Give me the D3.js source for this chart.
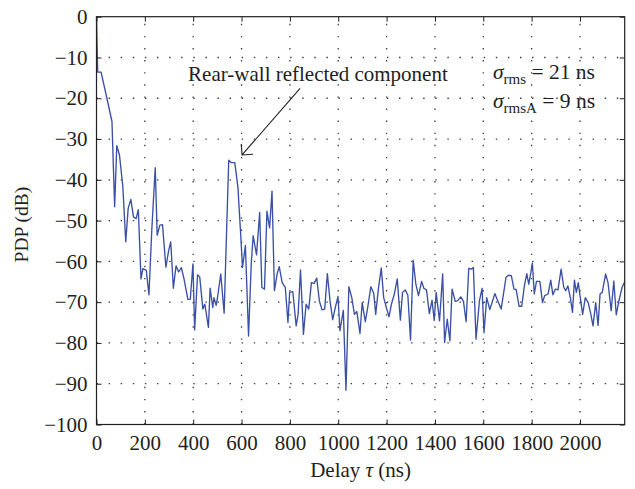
<!DOCTYPE html>
<html>
<head>
<meta charset="utf-8">
<script src="https://cdn.jsdelivr.net/npm/d3@7"></script>
<style>
  body { margin: 0; background: #fff; }
  svg { display: block; }
  text { font-family: "Liberation Serif", "Times New Roman", serif; fill: #231f20; }
</style>
</head>
<body>
<svg id="chart" width="635" height="489"></svg>
<script>
// Power delay profile: delay (ns) and received power (dB)
const delayNs = [
  0, 5, 19, 43, 64, 75, 84, 95, 109, 121, 131, 142, 153, 164, 173, 184, 192, 206, 217, 229,
  243, 251, 262, 273, 287, 298, 307, 318, 329, 340, 351, 362, 378, 388, 399, 406, 418, 427, 440, 448,
  463, 470, 481, 486, 495, 500, 514, 528, 547, 558, 572, 585, 596, 604, 616, 629, 640, 648, 662, 675,
  684, 695, 705, 716, 726, 736, 747, 756, 768, 781, 792, 799, 812, 826, 834, 844, 856, 867, 878, 889,
  900, 911, 922, 933, 944, 955, 966, 977, 988, 999, 1007, 1021, 1032, 1044, 1056, 1067, 1077, 1090, 1099, 1112,
  1122, 1135, 1147, 1155, 1166, 1178, 1188, 1199, 1210, 1220, 1232, 1244, 1257, 1266, 1277, 1288, 1299, 1310, 1321, 1332,
  1345, 1354, 1365, 1377, 1388, 1397, 1405, 1419, 1432, 1440, 1451, 1462, 1471, 1484, 1493, 1507, 1518, 1529, 1540, 1551,
  1559, 1570, 1584, 1595, 1603, 1614, 1627, 1648, 1657, 1674, 1694, 1705, 1716, 1727, 1736, 1748, 1759, 1770, 1780, 1788,
  1797, 1803, 1811, 1820, 1834, 1845, 1854, 1868, 1879, 1888, 1898, 1909, 1922, 1933, 1941, 1950, 1960, 1969, 1977, 1985,
  1993, 2004, 2011, 2022, 2034, 2045, 2054, 2065, 2075, 2083, 2092, 2106, 2116, 2129, 2140, 2150, 2161, 2174, 2185
];
const pdpDb = [
  0, -13.6, -13.6, -20, -25.7, -46.6, -31.6, -33.9, -41.7, -55.2, -47, -44.8, -49.1, -49.5, -47.3, -64.3, -61.8, -62.2, -68.2, -52,
  -37, -53.6, -51.1, -51, -61.4, -57.5, -55.2, -66.6, -61.1, -62.6, -61.5, -64.3, -69.3, -69.3, -60.6, -76.8, -63.3, -63.8, -71.7, -70.5,
  -76.2, -66.6, -71.3, -68.9, -70.8, -69.1, -63.1, -72.7, -35.2, -35.8, -35.8, -41.8, -52.9, -61.5, -56.1, -78.3, -60.7, -53.7, -58.4, -48,
  -66.4, -66.8, -47.7, -51.8, -42.8, -67.2, -63.1, -61.3, -65.2, -66.4, -75, -67.6, -67.4, -75.8, -73, -62.1, -77.9, -70.5, -71.7, -65.2,
  -65.4, -64.1, -69.7, -71.9, -71.7, -63, -69.7, -74.3, -71.3, -68.6, -77, -72, -91.6, -66.2, -68.9, -73, -72.3, -77.7, -70.1, -74.8,
  -71.3, -66.2, -67.9, -73, -66.8, -61.6, -68.9, -71.3, -73.6, -70.5, -68, -64.3, -74.4, -67.6, -67, -68.3, -79.3, -59.7, -65.6, -68.4,
  -64.9, -66.6, -67, -72.8, -69.5, -74.5, -67.6, -74.6, -63.1, -79.9, -74.2, -79.5, -66.8, -69.8, -69.7, -68.7, -69.8, -74.8, -61.7, -61.9,
  -61.5, -79.1, -69.7, -66.6, -77.5, -68.9, -71.8, -67.9, -69.3, -71.7, -63.9, -63.4, -63.5, -66.8, -66.9, -71, -71, -66, -63, -65.6,
  -62.7, -60.4, -68, -64.9, -64.9, -70.1, -68.4, -68, -64.6, -68.2, -66.8, -67, -61.9, -66.4, -67.2, -66, -68.9, -72.5, -64.6, -67.6,
  -65.2, -70.1, -73, -68.9, -70.1, -73, -75.8, -70.1, -75.7, -68, -67.6, -63.1, -65.2, -72.1, -64.8, -73.1, -69.7, -66.4, -65
];

const xTicks = d3.range(0, 2001, 200);
const yTicks = d3.range(-100, 1, 10);

const svg = d3.select("#chart");
const plot = { left: 96.5, right: 624.7, top: 16.7, bottom: 424.5 };

const x = d3.scaleLinear().domain([0, 2185]).range([plot.left, plot.right]);
const y = d3.scaleLinear().domain([-100, 0]).range([plot.bottom, plot.top]);

const minus = v => (v < 0 ? "\u2212" + Math.abs(v) : String(v));

// dotted grid
const grid = svg.append("g").attr("stroke", "#3a3a3a").attr("stroke-width", 1.3)
  .attr("stroke-dasharray", "1.4,10.7").attr("fill", "none");
grid.selectAll("line.gx").data(xTicks.filter(d => d > 0)).join("line")
  .attr("x1", d => x(d)).attr("x2", d => x(d))
  .attr("y1", plot.bottom).attr("y2", plot.top);
grid.selectAll("line.gy").data(yTicks.filter(d => d > -100 && d < 0)).join("line")
  .attr("x1", plot.left).attr("x2", plot.right)
  .attr("y1", d => y(d)).attr("y2", d => y(d));

// profile trace
const line = d3.line().x((d, i) => x(delayNs[i])).y(d => y(d));
svg.append("path")
  .datum(pdpDb)
  .attr("d", line)
  .attr("fill", "none")
  .attr("stroke", "#3b50a4")
  .attr("stroke-width", 1.35)
  .attr("stroke-linejoin", "round");

// axes with inward ticks on all four sides
const tickLen = 5;
const axB = d3.axisBottom(x).tickValues(xTicks).tickSizeInner(-tickLen).tickSizeOuter(0).tickPadding(11).tickFormat(d3.format("d"));
const axT = d3.axisTop(x).tickValues(xTicks).tickSizeInner(-tickLen).tickSizeOuter(0).tickFormat("");
const axL = d3.axisLeft(y).tickValues(yTicks).tickSizeInner(-tickLen).tickSizeOuter(0).tickPadding(9).tickFormat(minus);
const axR = d3.axisRight(y).tickValues(yTicks).tickSizeInner(-tickLen).tickSizeOuter(0).tickFormat("");

function style(g) {
  g.select(".domain").remove();
  g.selectAll(".tick line").attr("stroke", "#231f20").attr("stroke-width", 1);
  g.selectAll(".tick text").attr("font-size", 21).attr("font-family", "Liberation Serif, serif").attr("fill", "#231f20");
}
svg.append("g").attr("transform", `translate(0,${plot.bottom})`).call(axB).call(style);
svg.append("g").attr("transform", `translate(0,${plot.top})`).call(axT).call(style);
svg.append("g").attr("transform", `translate(${plot.left},0)`).call(axL).call(style);
svg.append("g").attr("transform", `translate(${plot.right},0)`).call(axR).call(style);

// frame
svg.append("rect")
  .attr("x", plot.left).attr("y", plot.top)
  .attr("width", plot.right - plot.left).attr("height", plot.bottom - plot.top)
  .attr("fill", "none").attr("stroke", "#231f20").attr("stroke-width", 1.2);

// axis titles
svg.append("text")
  .attr("transform", `translate(28,${(plot.top + plot.bottom) / 2 + 4}) rotate(-90)`)
  .attr("text-anchor", "middle").attr("font-size", 19.5)
  .text("PDP (dB)");

const xt = svg.append("text")
  .attr("x", (plot.left + plot.right) / 2).attr("y", 477)
  .attr("text-anchor", "middle").attr("font-size", 21);
xt.append("tspan").text("Delay ");
xt.append("tspan").attr("font-style", "italic").text("\u03c4");
xt.append("tspan").text(" (ns)");

// annotation for the rear-wall reflection
const note = { tx: 379, ty: -15.8, fromX: 842, fromY: -17.6, toX: 602, toY: -33.9 };
svg.append("text")
  .attr("x", x(note.tx)).attr("y", y(note.ty))
  .attr("font-size", 21)
  .text("Rear-wall reflected component");

const x0 = x(note.fromX), y0 = y(note.fromY), x1 = x(note.toX), y1 = y(note.toY);
const ang = Math.atan2(y0 - y1, x0 - x1);
const wing = 11, spread = Math.PI / 4;
svg.append("path")
  .attr("d", `M${x0},${y0}L${x1},${y1}` +
    `M${x1 + wing * Math.cos(ang - spread)},${y1 + wing * Math.sin(ang - spread)}L${x1},${y1}` +
    `L${x1 + wing * Math.cos(ang + spread)},${y1 + wing * Math.sin(ang + spread)}`)
  .attr("fill", "none").attr("stroke", "#231f20").attr("stroke-width", 1.1);

// delay spread values
const spreads = [
  { sub: "rms", val: "21" },
  { sub: "rmsA", val: "9" }
];
spreads.forEach((s, i) => {
  const t = svg.append("text").attr("x", 493).attr("y", 79 + i * 29).attr("font-size", 21.5);
  t.append("tspan").attr("font-style", "italic").text("\u03c3");
  t.append("tspan").attr("font-size", 15).attr("dy", 5).text(s.sub);
  t.append("tspan").attr("dy", -5).text(` = ${s.val} ns`);
});
</script>
</body>
</html>
